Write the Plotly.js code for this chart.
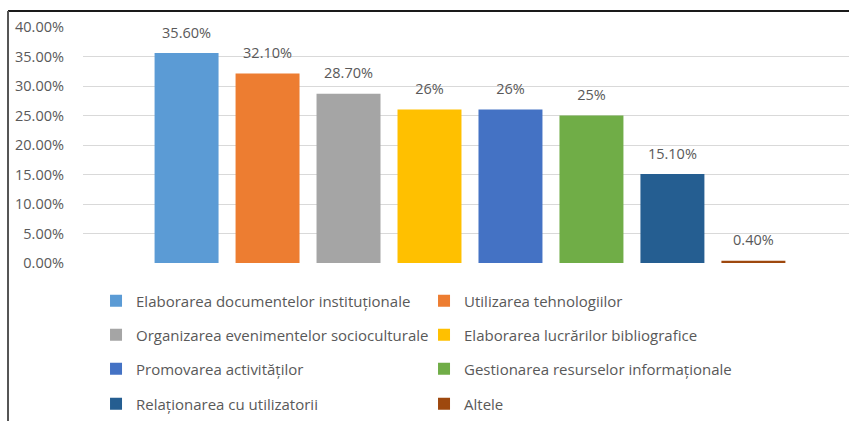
<!DOCTYPE html>
<html><head><meta charset="utf-8">
<script src="https://cdn.plot.ly/plotly-3.0.1.min.js"></script>
<style>html,body{margin:0;padding:0;background:#fff}#c{width:849px;height:421px}</style>
</head><body><div id="c"></div>
<script>
const seriesNames = [
  "Elaborarea documentelor instituționale",
  "Utilizarea tehnologiilor",
  "Organizarea evenimentelor socioculturale",
  "Elaborarea lucrărilor bibliografice",
  "Promovarea activităților",
  "Gestionarea resurselor informaționale",
  "Relaționarea cu utilizatorii",
  "Altele"
];
const seriesValues = [0.356, 0.321, 0.287, 0.26, 0.26, 0.25, 0.151, 0.004];
const valueLabels = ["35.60%", "32.10%", "28.70%", "26%", "26%", "25%", "15.10%", "0.40%"];
const seriesColors = ["#5b9bd5", "#ed7d31", "#a5a5a5", "#ffc000", "#4472c4", "#70ad47", "#255e91", "#9e480e"];
const category = ["Total"];
const yTicks = [0, 0.05, 0.10, 0.15, 0.20, 0.25, 0.30, 0.35, 0.40];

const FONT = "Open Sans";
const TXT = "#595959";
const legendIds = ["legend", "legend", "legend2", "legend2", "legend3", "legend3", "legend4", "legend4"];

const traces = seriesNames.map((n, i) => ({
  type: "bar",
  name: n,
  x: category,
  y: [seriesValues[i]],
  text: ["<span style='font-size:14.5px'>" + valueLabels[i] + "</span><br> "],
  textposition: "outside",
  cliponaxis: false,
  textfont: {family: FONT, size: 8, color: TXT},
  marker: {color: seriesColors[i], line: {width: 0}},
  legend: legendIds[i],
  hoverinfo: "skip"
}));

function leg(y) {
  return {
    orientation: "h", x: 0.017, xanchor: "left", y: y, yanchor: "middle",
    entrywidth: 283, entrywidthmode: "pixels",
    font: {family: FONT, size: 15, color: TXT},
    bgcolor: "rgba(0,0,0,0)", traceorder: "normal"
  };
}
// plot area: y from 27 (40%) to 263 (0%), height 236
const PH = 236, PB = 263;
const py = v => (PB - v) / PH;

const layout = {
  width: 849, height: 421,
  margin: {l: 83, r: 0, t: 27, b: 158},
  paper_bgcolor: "#fff", plot_bgcolor: "#fff",
  barmode: "group", bargap: 0.163, bargroupgap: 0.21,
  showlegend: true,
  legend: leg(py(301)),
  legend2: leg(py(335)),
  legend3: leg(py(369)),
  legend4: leg(py(404)),
  xaxis: {type: "category", range: [-0.5, 0.4897], showticklabels: false, showgrid: false, zeroline: false, showline: false, ticks: "", fixedrange: true},
  yaxis: {range: [0, 0.40], tickvals: yTicks, tickformat: ".2%", showgrid: true, gridcolor: "#d9d9d9", gridwidth: 1,
          zeroline: false, showline: false, ticks: "", ticklabelstandoff: 18,
          tickfont: {family: FONT, size: 14.5, color: TXT}, fixedrange: true},
  shapes: [
    {type: "line", xref: "paper", yref: "paper", x0: -0.0979, x1: 1.01, y0: py(11), y1: py(11), line: {color: "#1a1a1a", width: 2}},
    {type: "line", xref: "paper", yref: "paper", x0: -0.0979, x1: -0.0979, y0: py(11), y1: py(430), line: {color: "#555", width: 2}}
  ]
};

Plotly.newPlot("c", traces, layout, {staticPlot: true, displayModeBar: false});
</script></body></html>
